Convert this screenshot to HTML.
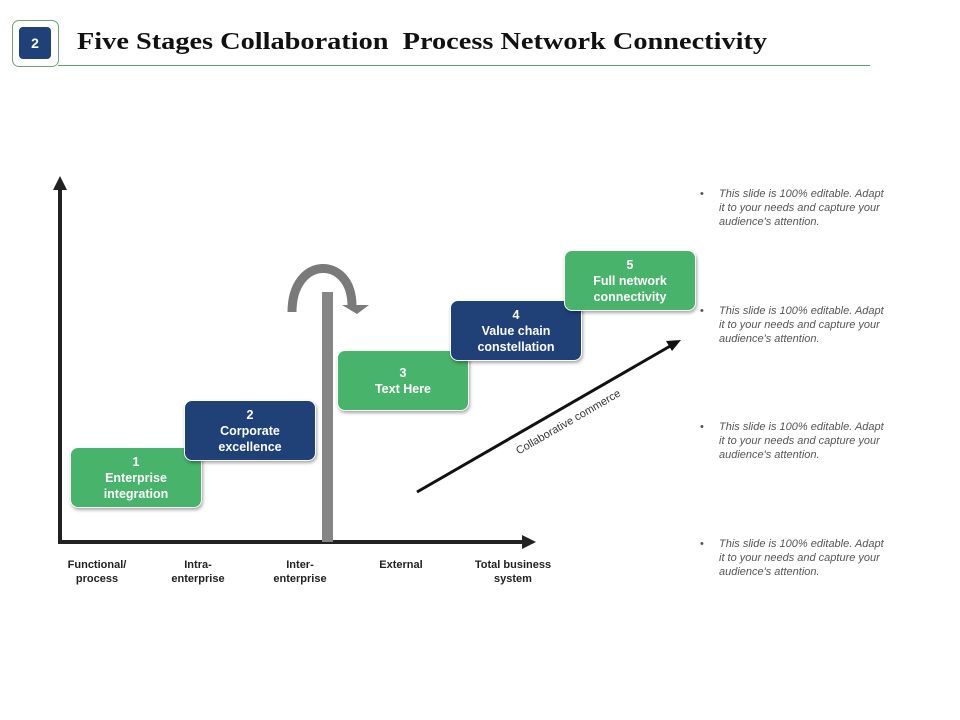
<!DOCTYPE html>
<html><head><meta charset="utf-8"><style>
body{margin:0;width:960px;height:720px;background:#fff;position:relative;overflow:hidden;font-family:"Liberation Sans",Arial,sans-serif}
.t{position:absolute;left:77px;top:29px;font-family:"Liberation Serif",serif;font-weight:bold;font-size:24px;color:#111;white-space:nowrap;transform:scaleX(1.18);transform-origin:0 0}
.box{position:absolute;width:130px;height:59px;border-radius:8px;color:#fff;font-weight:bold;font-size:12.5px;line-height:16px;text-align:center;display:flex;align-items:center;justify-content:center;border:1.5px solid #fff;box-shadow:1px 2px 3px rgba(0,0,0,.35)}
.g{background:#48b36a}.n{background:#1f4178}
.lab{position:absolute;font-size:11px;font-weight:bold;color:#222;text-align:center;line-height:14px;width:100px}
.b{position:absolute;left:700px;width:205px;font-size:11px;font-style:italic;color:#555;line-height:14px}
.b span{position:absolute;left:0;font-style:normal}
.b div{margin-left:19px;width:186px}
</style></head><body>
<div style="position:absolute;left:12px;top:20px;width:45px;height:45px;border:1px solid #6aa37a;border-radius:7px"></div>
<div style="position:absolute;left:19px;top:27px;width:32px;height:32px;background:#1f4178;border-radius:4px;color:#fff;font-weight:bold;font-size:14px;display:flex;align-items:center;justify-content:center">2</div>
<div style="position:absolute;left:58px;top:65px;width:812px;height:1px;background:#5fa070"></div>
<div class="t">Five Stages Collaboration&nbsp; Process Network Connectivity</div>
<svg width="960" height="720" style="position:absolute;left:0;top:0">
<line x1="60" y1="542" x2="60" y2="188" stroke="#222" stroke-width="4"/>
<polygon points="60,176 53,190 67,190" fill="#222"/>
<line x1="58" y1="542" x2="524" y2="542" stroke="#222" stroke-width="4"/>
<polygon points="536,542 522,535 522,549" fill="#222"/>
<rect x="322" y="292" width="11" height="250" fill="#858585"/>
<path d="M292,312 C292,255 352,255 352,306" fill="none" stroke="#7a7a7a" stroke-width="9"/>
<polygon points="342,305 369,305 357,314" fill="#7a7a7a"/>
<line x1="417" y1="492" x2="672" y2="345" stroke="#111" stroke-width="3"/>
<polygon points="681,340 666,341 672,351" fill="#111"/>
<text x="0" y="0" transform="translate(570,425) rotate(-30)" text-anchor="middle" font-family="Liberation Sans" font-size="11" fill="#333">Collaborative commerce</text>
</svg>
<div class="box g" style="left:70px;top:447px">1<br>Enterprise<br>integration</div>
<div class="box n" style="left:184px;top:400px">2<br>Corporate<br>excellence</div>
<div class="box g" style="left:337px;top:350px">3<br>Text Here</div>
<div class="box n" style="left:450px;top:300px">4<br>Value chain<br>constellation</div>
<div class="box g" style="left:564px;top:250px">5<br>Full network<br>connectivity</div>
<div class="lab" style="left:47px;top:558px">Functional/<br>process</div>
<div class="lab" style="left:148px;top:558px">Intra-<br>enterprise</div>
<div class="lab" style="left:250px;top:558px">Inter-<br>enterprise</div>
<div class="lab" style="left:351px;top:558px">External</div>
<div class="lab" style="left:463px;top:558px">Total business<br>system</div>
<div class="b" style="top:187px"><span>•</span><div>This slide is 100% editable. Adapt<br>it to your needs and capture your<br>audience's attention.</div></div>
<div class="b" style="top:304px"><span>•</span><div>This slide is 100% editable. Adapt<br>it to your needs and capture your<br>audience's attention.</div></div>
<div class="b" style="top:420px"><span>•</span><div>This slide is 100% editable. Adapt<br>it to your needs and capture your<br>audience's attention.</div></div>
<div class="b" style="top:537px"><span>•</span><div>This slide is 100% editable. Adapt<br>it to your needs and capture your<br>audience's attention.</div></div>
</body></html>
